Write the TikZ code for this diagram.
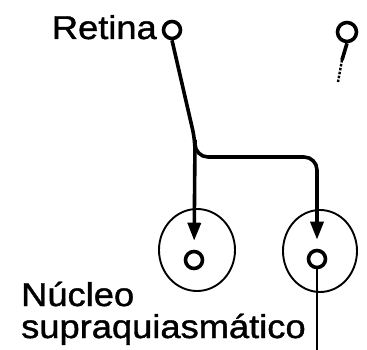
\documentclass[tikz,border=0pt]{standalone}
\usepackage{fontspec}
\setmainfont{Liberation Sans}
\newfontfamily\labelfont[FakeStretch=1.1,FakeBold=1.2]{Liberation Sans}
\usepackage{tikz}
\usetikzlibrary{positioning, arrows.meta, shapes.geometric}

\begin{document}
\begin{tikzpicture}[x=1pt, y=-1pt,
    fibre/.style={line width=3.6pt},
    arrowfibre/.style={fibre, -{Triangle[length=18pt,width=13pt]}, shorten >=9pt},
    cell/.style={circle, draw, line width=3.6pt, minimum size=17pt, inner sep=0pt},
    nucleus/.style={ellipse, draw, line width=1.9pt, minimum width=76pt, minimum height=82pt},
    lbl/.style={font=\labelfont\fontsize{33}{30}\selectfont, inner sep=0pt}]
\useasboundingbox (0,0) rectangle (367,350);

% retina
\node[cell] (ret) at (172,30) {};
\node[cell, minimum size=19pt] (ret2) at (347,32) {};
\node[lbl, anchor=base east] (retlbl) at (157,39) {Retina};

% nucleo supraquiasmatico
\node[nucleus] (scnL) at (197,250) {};
\node[nucleus, minimum width=74pt] (scnR) at (320,251) {};
\node[cell] (cellL) at (194,260) {};
\node[cell] (cellR) at (317,259) {};
\node[lbl, anchor=base west] (nucl) at (21,306) {Núcleo};
\node[lbl, anchor=base west] (supra) at (21,338) {supraquiasmático};

% fibres
\coordinate (fork) at (195,140);
\coordinate (bend) at (195,157);
\coordinate (stem) at (342,60);
\coordinate (stemend) at (338,82);
\coordinate (out) at (317,352);

\draw[arrowfibre, rounded corners=10pt] (ret.south) -- (fork) -- (cellL);
\draw[arrowfibre, rounded corners=13pt] (fork) -- (bend) -| (cellR);
\draw[fibre] (ret2.south) -- (stem);
\draw[line width=2.4pt, dash pattern=on 2.5pt off 1.5pt] (stem) -- (stemend);
\draw[line width=2.6pt] (cellR.south) -- (out);
\end{tikzpicture}
\end{document}
